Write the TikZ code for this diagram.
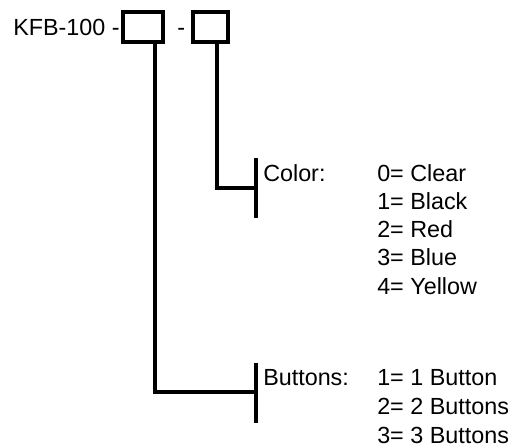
\documentclass[tikz,border=0pt]{standalone}
\usepackage{fontspec}
\setmainfont{Liberation Sans}
\usetikzlibrary{calc}
\begin{document}
\begin{tikzpicture}[x=0.75pt,y=-0.75pt,
  txt/.style={anchor=base west,inner sep=0pt,font=\fontsize{17.5pt}{21.4pt}\selectfont},
  codebox/.style={draw,line width=2.3pt,minimum height=22.5pt,inner sep=0pt},
  ln/.style={line width=2.4pt}]
\useasboundingbox (0,0) rectangle (513,447);
\node[txt] (pre) at (13,35.5) {KFB-100 -};
\node[codebox,minimum width=30pt] (b1) at (143,27) {};
\node[txt] (dash) at (177,35.5) {-};
\node[codebox,minimum width=26.25pt] (b2) at (210.5,27) {};
% Color section
\node[txt] (col) at (263,181) {Color:};
\node[txt] (c0) at (377,181) {0= Clear};
\node[txt] (c1) at (377,209.3) {1= Black};
\node[txt] (c2) at (377,237.6) {2= Red};
\node[txt] (c3) at (377,265.9) {3= Blue};
\node[txt] (c4) at (377,294.2) {4= Yellow};
\coordinate (ct) at (256,158);
\coordinate (cb) at (256,218);
\coordinate (cj) at (256,188);
% Buttons section
\node[txt] (but) at (263,385) {Buttons:};
\node[txt] (v1) at (377,385) {1= 1 Button};
\node[txt] (v2) at (377,414) {2= 2 Buttons};
\node[txt] (v3) at (377,443) {3= 3 Buttons};
\coordinate (bt) at (256,363);
\coordinate (bb) at (256,423);
\coordinate (bj) at (256,392);
% connectors
\draw[ln] (ct) -- (cb);
\draw[ln] (bt) -- (bb);
\draw[ln] (217,0 |- b2.south) -- (217,0 |- cj) -- (cj);
\draw[ln] (155,0 |- b1.south) -- (155,0 |- bj) -- (bj);
\end{tikzpicture}
\end{document}
